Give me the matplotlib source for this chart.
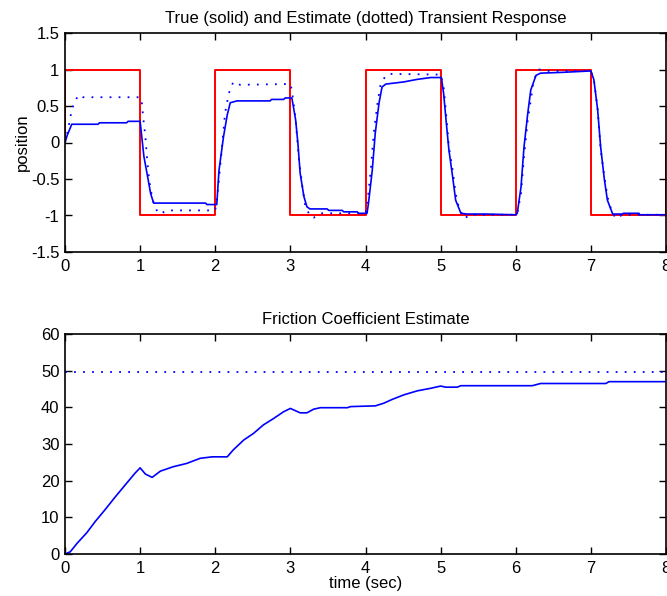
import matplotlib
matplotlib.use('Agg')
import matplotlib.pyplot as plt
import numpy as np

plt.rcParams['font.family'] = ['Liberation Sans', 'DejaVu Sans']
plt.rcParams['font.size'] = 12

# reference square wave (red)
ref_t = [0, 0, 1, 1, 2, 2, 3, 3, 4, 4, 5, 5, 6, 6, 7, 7, 8, 8]
ref_pos = [0, 1, 1, -1, -1, 1, 1, -1, -1, 1, 1, -1, -1, 1, 1, -1, -1, 0]

# true position (solid blue)
true_t = [0, 0.03, 0.09, 0.44, 0.46, 0.82, 0.84, 1.0, 1.05, 1.10, 1.14, 1.18, 1.87, 1.89, 2.02,
          2.05, 2.11, 2.16, 2.2, 2.29, 2.73, 2.75, 2.91, 2.93, 3.02, 3.07, 3.10, 3.13, 3.18, 3.22,
          3.26, 3.49, 3.51, 3.69, 3.71, 3.89, 3.91, 4.02,
          4.04, 4.09, 4.13, 4.18, 4.22, 4.27, 4.51, 4.69, 4.87, 5.01, 5.04, 5.08, 5.11, 5.16, 5.2,
          5.27, 5.35, 5.6, 6.0,
          6.02, 6.07, 6.11, 6.16, 6.2, 6.27, 6.33, 6.6, 7.0, 7.04, 7.09, 7.13, 7.18, 7.22, 7.29,
          7.42, 7.43, 7.64, 7.65, 8.0]
true_pos = [0, 0.1, 0.25, 0.25, 0.27, 0.27, 0.29, 0.29, -0.19, -0.47, -0.70, -0.83, -0.83, -0.85, -0.85,
            -0.38, 0.08, 0.38, 0.545, 0.57, 0.57, 0.59, 0.59, 0.61, 0.61, 0.31, -0.01, -0.42, -0.74, -0.88,
            -0.91, -0.91, -0.93, -0.93, -0.95, -0.95, -0.97, -0.97,
            -0.83, -0.38, 0.13, 0.54, 0.76, 0.80, 0.83, 0.865, 0.89, 0.89, 0.67, 0.22, -0.10, -0.47, -0.79,
            -0.97, -0.98, -0.98, -0.99,
            -0.97, -0.61, -0.06, 0.40, 0.72, 0.92, 0.95, 0.96, 0.98, 0.86, 0.45, -0.06, -0.51, -0.79, -0.98,
            -0.98, -0.97, -0.97, -0.99, -0.99]

# estimated position (dotted blue)
est_t = [0, 0.04, 0.09, 0.13, 0.18, 0.24, 1.0, 1.02, 1.04, 1.07, 1.09, 1.11, 1.14, 1.18, 1.23, 1.27,
         1.35, 2.0, 2.04, 2.09, 2.13, 2.18, 2.24, 2.33, 2.9, 3.0, 3.02, 3.07, 3.11, 3.16, 3.2, 3.27,
         3.31, 3.4, 4.0, 4.02, 4.07, 4.11, 4.16, 4.2, 4.27, 4.33, 5.0, 5.04, 5.08, 5.11, 5.16, 5.2,
         5.24, 5.31, 5.4, 6.0, 6.02, 6.07, 6.11, 6.16, 6.2, 6.24, 6.31, 6.4, 7.0, 7.04, 7.09, 7.13,
         7.18, 7.22, 7.27, 7.33, 7.42, 8.0]
est_pos = [0, 0.17, 0.45, 0.56, 0.65, 0.62, 0.62, 0.58, 0.35, 0.08, -0.19, -0.42, -0.65, -0.83, -0.95, -0.98,
           -0.93, -0.93, -0.61, -0.06, 0.40, 0.67, 0.83, 0.79, 0.80, 0.80, 0.72, 0.31, -0.19, -0.61, -0.88, -1.02,
           -1.03, -0.97, -0.97, -0.88, -0.38, 0.13, 0.54, 0.79, 0.92, 0.94, 0.93, 0.76, 0.31, -0.06, -0.38, -0.70,
           -0.88, -1.04, -0.99, -0.99, -0.97, -0.70, -0.19, 0.31, 0.58, 0.86, 1.0, 0.98, 0.98, 0.86, 0.45, -0.10,
           -0.47, -0.74, -0.92, -1.04, -0.99, -0.99]

# friction coefficient estimate
fric_t = [0, 0.07, 0.16, 0.29, 0.4, 0.53, 0.67, 0.8, 0.93, 1.0, 1.07, 1.16, 1.27, 1.44, 1.62, 1.8, 1.96,
          2.16, 2.24, 2.38, 2.51, 2.64, 2.78, 2.91, 3.0, 3.13, 3.22, 3.31, 3.4, 3.76, 3.8, 4.13, 4.24,
          4.36, 4.51, 4.69, 4.87, 5.0, 5.07, 5.22, 5.27, 6.22, 6.33, 7.2, 7.24, 8.0]
fric_est = [0, 0.6, 2.9, 5.8, 8.8, 12.0, 15.6, 18.8, 22.0, 23.5, 21.8, 20.9, 22.6, 23.8, 24.7, 26.1, 26.5,
            26.5, 28.4, 31.1, 32.9, 35.2, 37.0, 38.8, 39.7, 38.5, 38.5, 39.5, 39.9, 39.9, 40.2, 40.4, 41.1,
            42.2, 43.4, 44.5, 45.2, 45.8, 45.5, 45.5, 45.9, 45.9, 46.5, 46.5, 47.0, 47.0]
fric_true = 49.6

blue = '#0000ff'
red = '#ff0000'
dots = (0, (1, 4))

fig = plt.figure(figsize=(6.67, 5.96), dpi=100)
ax1 = fig.add_axes([65 / 667, 1 - 252 / 596, 601 / 667, 219 / 596])
ax2 = fig.add_axes([65 / 667, 1 - 554 / 596, 601 / 667, 220 / 596])

ax1.plot(ref_t, ref_pos, color=red, lw=1.4)
ax1.plot(true_t, true_pos, color=blue, lw=1.2)
ax1.plot(est_t, est_pos, color=blue, lw=1.3, linestyle=dots)
ax1.set_xlim(0, 8)
ax1.set_ylim(-1.5, 1.5)
ax1.set_yticks([-1.5, -1, -0.5, 0, 0.5, 1, 1.5])
ax1.set_yticklabels(['-1.5', '-1', '-0.5', '0', '0.5', '1', '1.5'])
ax1.set_ylabel('position', labelpad=1)
ax1.set_title('True (solid) and Estimate (dotted) Transient Response', fontsize=12, pad=7)

ax2.plot(fric_t, fric_est, color=blue, lw=1.2)
ax2.plot([0, 8], [fric_true, fric_true], color=blue, lw=1.3, linestyle=dots)
ax2.set_xlim(0, 8)
ax2.set_ylim(0, 60)
ax2.set_yticks(range(0, 61, 10))
ax2.set_xlabel('time (sec)', labelpad=0)
ax2.set_title('Friction Coefficient Estimate', fontsize=12, pad=7)

for ax in (ax1, ax2):
    ax.set_xticks(range(0, 9))
    ax.tick_params(axis='x', pad=5)
    ax.tick_params(direction='in', length=5, width=1, top=True, right=True, labelsize=12)
    ax.tick_params(axis='y', pad=4)
    for s in ax.spines.values():
        s.set_linewidth(1.2)

fig.savefig('out.png', dpi=100)
